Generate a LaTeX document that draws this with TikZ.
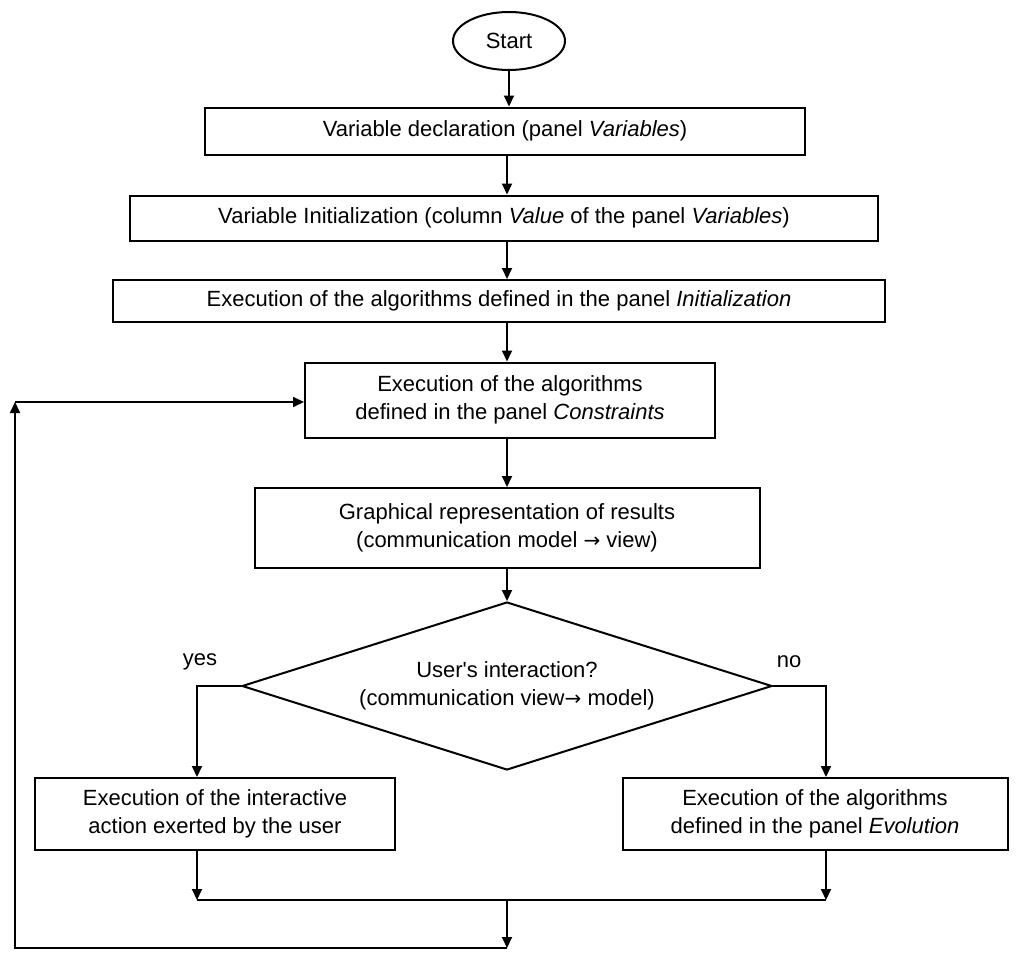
\documentclass[tikz,border=0pt]{standalone}
\usepackage{fontspec}
\setmainfont{Liberation Sans}
\newfontfamily\dejavu{DejaVu Sans}
\usetikzlibrary{shapes.geometric,arrows.meta}
\newcommand{\flowarrow}{{\dejavu\fontsize{20}{28}\selectfont→}}
\begin{document}
\begin{tikzpicture}[x=1pt,y=-1pt,
  every node/.style={font=\fontsize{22}{28}\selectfont},
  box/.style={draw,line width=2pt,rectangle,align=center,inner sep=0pt},
  conn/.style={line width=2pt},
  arr/.style={conn,-{Triangle[length=11pt,width=10pt]}},
  lbl/.style={inner sep=0pt}]
\useasboundingbox (0,0) rectangle (1018,961);
\node[draw,line width=2pt,ellipse,minimum width=112pt,minimum height=58pt,inner sep=0pt] (start) at (509,41) {Start};
\node[box,minimum width=600pt,minimum height=47pt] (b1) at (505,131) {Variable declaration (panel \textit{Variables})};
\node[box,minimum width=748pt,minimum height=45pt] (b2) at (504,218) {Variable Initialization (column \textit{Value} of the panel \textit{Variables})};
\node[box,minimum width=772pt,minimum height=42pt] (b3) at (499,301) {Execution of the algorithms defined in the panel \textit{Initialization}};
\node[box,minimum width=410pt,minimum height=75pt] (b4) at (510,400) {Execution of the algorithms\\defined in the panel \textit{Constraints}};
\node[box,minimum width=505pt,minimum height=80pt] (b5) at (507,528) {Graphical representation of results\\(communication model \flowarrow{} view)};
\node[draw,line width=2pt,diamond,shape aspect=3.15,minimum width=530pt,minimum height=168pt,inner sep=0pt,align=center] (dia) at (507,686) {User\textquotesingle s interaction?\\(communication view\flowarrow{} model)};
\node[box,minimum width=360pt,minimum height=72pt] (lb) at (215,814) {Execution of the interactive\\action exerted by the user};
\node[box,minimum width=385pt,minimum height=72pt] (rb) at (815,814) {Execution of the algorithms\\defined in the panel \textit{Evolution}};
\node[lbl] (yes) at (200,662) {yes};
\node[lbl] (no) at (789,662) {no};
\coordinate (cx) at (507,0);
\coordinate (lx) at (197,0);
\coordinate (rx) at (826,0);
\coordinate (jl) at (197,900);
\coordinate (jr) at (826,900);
\coordinate (jm) at (507,900);
\coordinate (bm) at (507,948);
\coordinate (bl) at (15,948);
\coordinate (tl) at (15,402);
\draw[arr] (start.south) -- (start.south |- b1.north);
\draw[arr] (b1.south -| cx) -- (b2.north -| cx);
\draw[arr] (b2.south -| cx) -- (b3.north -| cx);
\draw[arr] (b3.south -| cx) -- (b4.north -| cx);
\draw[arr] (b4.south -| cx) -- (b5.north -| cx);
\draw[arr] (b5.south -| cx) -- (dia.north);
\draw[arr] (dia.west) -| (lb.north -| lx);
\draw[arr] (dia.east) -| (rb.north -| rx);
\draw[arr] (lb.south -| lx) -- (jl);
\draw[arr] (rb.south -| rx) -- (jr);
\draw[conn] (jl) -- (jr);
\draw[arr] (jm) -- (bm);
\draw[arr] (bm) -- (bl) -- (tl);
\draw[arr] (tl) -- (b4.west |- tl);
\end{tikzpicture}
\end{document}
